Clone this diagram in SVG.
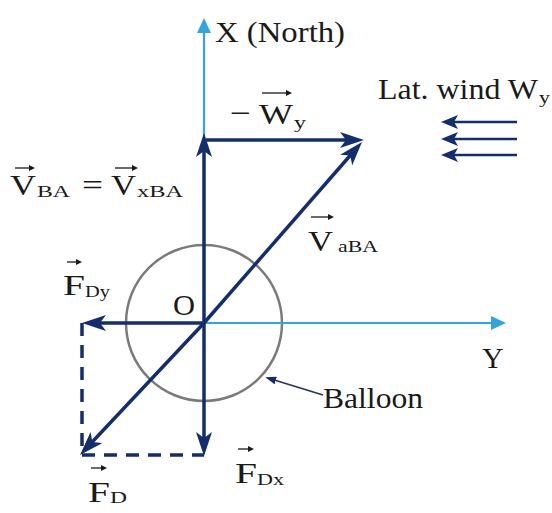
<svg xmlns="http://www.w3.org/2000/svg" width="552" height="513" viewBox="0 0 552 513">
<style>
text{font-family:"Liberation Serif","Times New Roman","DejaVu Serif",serif;fill:#1a1a1a;font-size:30px}
.sub{font-size:17px}
.dk{stroke:#142d6c;stroke-width:3.5;fill:none}
.lb{stroke:#33a5dc;stroke-width:2.2;fill:none}
.dash{stroke:#142d6c;stroke-width:3.5;fill:none;stroke-dasharray:13 9}
.wind{stroke:#142d6c;stroke-width:2.5;fill:none}
.vec{stroke:#1a1a1a;stroke-width:1.3;fill:none}
</style>
<defs>
<marker id="ad" markerUnits="userSpaceOnUse" markerWidth="26" markerHeight="16" refX="12" refY="8" orient="auto">
<path d="M0,0 L24,8 L0,16 L6,8 z" fill="#142d6c"/>
</marker>
<marker id="al" markerUnits="userSpaceOnUse" markerWidth="16" markerHeight="14" refX="8" refY="7" orient="auto">
<path d="M0,0 L15,7 L0,14 z" fill="#33a5dc"/>
</marker>
<marker id="aw" markerUnits="userSpaceOnUse" markerWidth="18" markerHeight="14" refX="8" refY="7" orient="auto">
<path d="M0,0 L17,7 L0,14 L4,7 z" fill="#142d6c"/>
</marker>
<marker id="as" markerUnits="userSpaceOnUse" markerWidth="12" markerHeight="8" refX="5" refY="4" orient="auto">
<path d="M0,0 L11,4 L0,8 z" fill="#142d6c"/>
</marker>
<marker id="av" markerUnits="userSpaceOnUse" markerWidth="7" markerHeight="6" refX="3" refY="3" orient="auto">
<path d="M0,0 L6,3 L0,6 z" fill="#1a1a1a"/>
</marker>
</defs>

<g id="balloon">
<circle cx="204" cy="323" r="78" fill="none" stroke="#7a7a7a" stroke-width="2.5"/>
</g>

<g id="connectors">
<line class="lb" x1="204" y1="323" x2="204" y2="25" marker-end="url(#al)"/>
<line class="lb" x1="204" y1="323" x2="499" y2="323" marker-end="url(#al)"/>
<line class="dash" x1="82" y1="323" x2="82" y2="455"/>
<line class="dash" x1="82" y1="455" x2="204" y2="455"/>
<line class="dk" x1="204" y1="323" x2="204" y2="145" marker-end="url(#ad)"/>
<line class="dk" x1="204" y1="323" x2="204" y2="444" marker-end="url(#ad)"/>
<line class="dk" x1="206" y1="140" x2="352" y2="140" marker-end="url(#ad)"/>
<line class="dk" x1="204" y1="323" x2="354.1" y2="151" marker-end="url(#ad)"/>
<line class="dk" x1="204" y1="323" x2="88.2" y2="446.3" marker-end="url(#ad)"/>
<line class="dk" x1="204" y1="323" x2="94" y2="323" marker-end="url(#ad)"/>
<line x1="323" y1="395" x2="271" y2="379" stroke="#2a3550" stroke-width="1.5" marker-end="url(#as)"/>
<line class="wind" x1="517" y1="122" x2="450" y2="122" marker-end="url(#aw)"/>
<line class="wind" x1="517" y1="139" x2="450" y2="139" marker-end="url(#aw)"/>
<line class="wind" x1="517" y1="155" x2="450" y2="155" marker-end="url(#aw)"/>
</g>

<g id="labels">
<text x="215" y="42" textLength="130" lengthAdjust="spacingAndGlyphs">X (North)</text>
<g id="label-wy">
<text x="230" y="123" textLength="21" lengthAdjust="spacingAndGlyphs">−</text>
<text x="259" y="124" textLength="34" lengthAdjust="spacingAndGlyphs">W</text>
<text class="sub" x="294" y="128" textLength="12" lengthAdjust="spacingAndGlyphs">y</text>
<line class="vec" x1="262" y1="93" x2="289" y2="93" marker-end="url(#av)"/>
</g>
<g id="label-wind">
<text x="378" y="99" font-size="28" textLength="160" lengthAdjust="spacingAndGlyphs">Lat. wind W</text>
<text class="sub" x="539" y="103" textLength="11" lengthAdjust="spacingAndGlyphs">y</text>
</g>
<g id="label-vba">
<text x="10" y="195" textLength="26" lengthAdjust="spacingAndGlyphs">V</text>
<text class="sub" x="37" y="197" textLength="33" lengthAdjust="spacingAndGlyphs">BA</text>
<text x="82" y="195" textLength="21" lengthAdjust="spacingAndGlyphs">=</text>
<text x="111" y="195" textLength="25" lengthAdjust="spacingAndGlyphs">V</text>
<text class="sub" x="137" y="197" textLength="46" lengthAdjust="spacingAndGlyphs">xBA</text>
<line class="vec" x1="15" y1="168" x2="32" y2="168" marker-end="url(#av)"/>
<line class="vec" x1="115" y1="168" x2="135" y2="168" marker-end="url(#av)"/>
</g>
<g id="label-vaba">
<text x="308" y="251" textLength="25" lengthAdjust="spacingAndGlyphs">V</text>
<text class="sub" x="338" y="252" textLength="40" lengthAdjust="spacingAndGlyphs">aBA</text>
<line class="vec" x1="311" y1="217" x2="331" y2="217" marker-end="url(#av)"/>
</g>
<g id="label-fdy">
<text x="63" y="295" textLength="22" lengthAdjust="spacingAndGlyphs">F</text>
<text class="sub" x="85" y="297" textLength="25" lengthAdjust="spacingAndGlyphs">Dy</text>
<line class="vec" x1="67" y1="262" x2="79" y2="262" marker-end="url(#av)"/>
</g>
<text x="173" y="315" font-size="27" textLength="22" lengthAdjust="spacingAndGlyphs">O</text>
<text x="482" y="368" font-size="29">Y</text>
<text x="323" y="408" textLength="100" lengthAdjust="spacingAndGlyphs">Balloon</text>
<g id="label-fd">
<text x="88" y="502" textLength="22" lengthAdjust="spacingAndGlyphs">F</text>
<text class="sub" x="110" y="503" textLength="17" lengthAdjust="spacingAndGlyphs">D</text>
<line class="vec" x1="91" y1="468" x2="104" y2="468" marker-end="url(#av)"/>
</g>
<g id="label-fdx">
<text x="235" y="483" textLength="22" lengthAdjust="spacingAndGlyphs">F</text>
<text class="sub" x="257" y="485" textLength="27" lengthAdjust="spacingAndGlyphs">Dx</text>
<line class="vec" x1="238" y1="449" x2="251" y2="449" marker-end="url(#av)"/>
</g>
</g>
</svg>
